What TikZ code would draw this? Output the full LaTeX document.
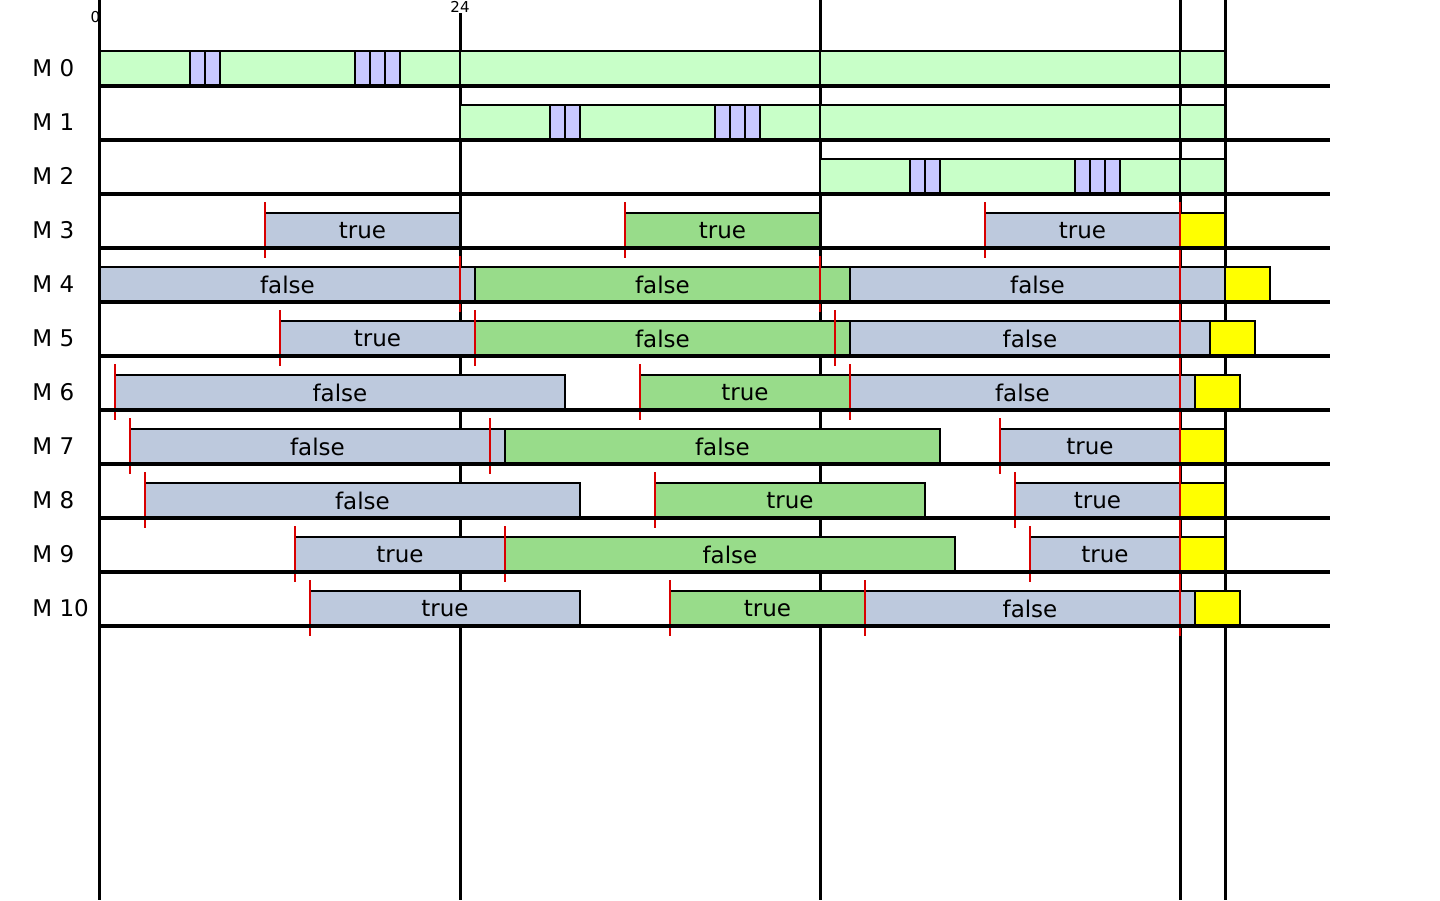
\documentclass[tikz,border=0pt]{standalone}
\usepackage{fontspec}
\setmainfont{DejaVu Sans}
\usepackage{tikz}
\usetikzlibrary{positioning}
\definecolor{runlight}{HTML}{C8FFC8}
\definecolor{slotpur}{HTML}{C8C8FF}
\definecolor{evblue}{HTML}{BDC9DD}
\definecolor{evgreen}{HTML}{98DC8A}
\definecolor{ovyel}{HTML}{FFFF00}
\tikzset{
  seg/.style={draw=black, line width=1.3pt, anchor=south west, inner sep=0pt, outer sep=0pt,
              minimum height=17.5pt, font=\fontsize{11.5}{13}\selectfont},
  wd/.style={minimum width=#1*7.5pt},
  run/.style={seg, fill=runlight},
  slot/.style={seg, fill=slotpur, wd=1},
  blu/.style={seg, fill=evblue},
  grn/.style={seg, fill=evgreen},
  ovr/.style={seg, fill=ovyel},
  axis/.style={line width=1.5pt},
  rowline/.style={line width=2.2pt},
  redtick/.style={draw=red!85!black, line width=0.9pt},
  mlab/.style={anchor=west, font=\fontsize{11.5}{13}\selectfont, inner sep=0pt},
  tlab/.style={font=\fontsize{7.5}{8}\selectfont, inner sep=0pt},
}

\begin{document}
\begin{tikzpicture}[x=7.5pt, y=-27pt]
    \useasboundingbox (-6.6667,-1.5926) rectangle (89.3333,15.0741);
    % time axis
    \draw[axis] (0,-1.5926) -- (0,15.0741);
    \draw[axis] (24,-1.35) -- (24,15.0741);
    \draw[axis] (48,-1.5926) -- (48,15.0741);
    \draw[axis] (72,-1.5926) -- (72,15.0741);
    \draw[axis] (75,-1.5926) -- (75,15.0741);
    \node[tlab] (t0) at (-0.3,-1.28) {0};
    \node[tlab] (t24) at (24,-1.47) {24};
    % M0 .. M2
    \node[run, wd=24] (r0a) at (0,0) {};
    \node[run, wd=24] (r0b) at (24,0) {};
    \node[run, wd=24] (r0c) at (48,0) {};
    \node[run, wd=3] (r0d) at (72,0) {};
    \node[slot] (s0a) at (6,0) {};
    \node[slot] (s0b) at (7,0) {};
    \node[slot] (s0c) at (17,0) {};
    \node[slot] (s0d) at (18,0) {};
    \node[slot] (s0e) at (19,0) {};
    \node[run, wd=24] (r1b) at (24,1) {};
    \node[run, wd=24] (r1c) at (48,1) {};
    \node[run, wd=3] (r1d) at (72,1) {};
    \node[slot] (s1a) at (30,1) {};
    \node[slot] (s1b) at (31,1) {};
    \node[slot] (s1c) at (41,1) {};
    \node[slot] (s1d) at (42,1) {};
    \node[slot] (s1e) at (43,1) {};
    \node[run, wd=24] (r2c) at (48,2) {};
    \node[run, wd=3] (r2d) at (72,2) {};
    \node[slot] (s2a) at (54,2) {};
    \node[slot] (s2b) at (55,2) {};
    \node[slot] (s2c) at (65,2) {};
    \node[slot] (s2d) at (66,2) {};
    \node[slot] (s2e) at (67,2) {};
    % M3 .. M10
    \node[blu, wd=13] (m3a) at (11,3) {true};
    \node[grn, wd=13] (m3b) at (35,3) {true};
    \node[blu, wd=13] (m3c) at (59,3) {true};
    \node[ovr, wd=3] (m3d) at (72,3) {};
    \node[blu, wd=25] (m4a) at (0,4) {false};
    \node[grn, wd=25] (m4b) at (25,4) {false};
    \node[blu, wd=25] (m4c) at (50,4) {false};
    \node[ovr, wd=3] (m4d) at (75,4) {};
    \node[blu, wd=13] (m5a) at (12,5) {true};
    \node[grn, wd=25] (m5b) at (25,5) {false};
    \node[blu, wd=24] (m5c) at (50,5) {false};
    \node[ovr, wd=3] (m5d) at (74,5) {};
    \node[blu, wd=30] (m6a) at (1,6) {false};
    \node[grn, wd=14] (m6b) at (36,6) {true};
    \node[blu, wd=23] (m6c) at (50,6) {false};
    \node[ovr, wd=3] (m6d) at (73,6) {};
    \node[blu, wd=25] (m7a) at (2,7) {false};
    \node[grn, wd=29] (m7b) at (27,7) {false};
    \node[blu, wd=12] (m7c) at (60,7) {true};
    \node[ovr, wd=3] (m7d) at (72,7) {};
    \node[blu, wd=29] (m8a) at (3,8) {false};
    \node[grn, wd=18] (m8b) at (37,8) {true};
    \node[blu, wd=11] (m8c) at (61,8) {true};
    \node[ovr, wd=3] (m8d) at (72,8) {};
    \node[blu, wd=14] (m9a) at (13,9) {true};
    \node[grn, wd=30] (m9b) at (27,9) {false};
    \node[blu, wd=10] (m9c) at (62,9) {true};
    \node[ovr, wd=3] (m9d) at (72,9) {};
    \node[blu, wd=18] (m10a) at (14,10) {true};
    \node[grn, wd=13] (m10b) at (38,10) {true};
    \node[blu, wd=22] (m10c) at (51,10) {false};
    \node[ovr, wd=3] (m10d) at (73,10) {};
    % release marks
    \draw[redtick] (11,2.15) -- (11,3.19);
    \draw[redtick] (35,2.15) -- (35,3.19);
    \draw[redtick] (59,2.15) -- (59,3.19);
    \draw[redtick] (24,3.15) -- (24,4.19);
    \draw[redtick] (48,3.15) -- (48,4.19);
    \draw[redtick] (12,4.15) -- (12,5.19);
    \draw[redtick] (25,4.15) -- (25,5.19);
    \draw[redtick] (49,4.15) -- (49,5.19);
    \draw[redtick] (1,5.15) -- (1,6.19);
    \draw[redtick] (36,5.15) -- (36,6.19);
    \draw[redtick] (50,5.15) -- (50,6.19);
    \draw[redtick] (2,6.15) -- (2,7.19);
    \draw[redtick] (26,6.15) -- (26,7.19);
    \draw[redtick] (60,6.15) -- (60,7.19);
    \draw[redtick] (3,7.15) -- (3,8.19);
    \draw[redtick] (37,7.15) -- (37,8.19);
    \draw[redtick] (61,7.15) -- (61,8.19);
    \draw[redtick] (13,8.15) -- (13,9.19);
    \draw[redtick] (27,8.15) -- (27,9.19);
    \draw[redtick] (62,8.15) -- (62,9.19);
    \draw[redtick] (14,9.15) -- (14,10.19);
    \draw[redtick] (38,9.15) -- (38,10.19);
    \draw[redtick] (51,9.15) -- (51,10.19);
    \draw[redtick] (72,2.15) -- (72,10.19);
    % rows
    \draw[rowline] (0,0) -- (82,0);
    \draw[rowline] (0,1) -- (82,1);
    \draw[rowline] (0,2) -- (82,2);
    \draw[rowline] (0,3) -- (82,3);
    \draw[rowline] (0,4) -- (82,4);
    \draw[rowline] (0,5) -- (82,5);
    \draw[rowline] (0,6) -- (82,6);
    \draw[rowline] (0,7) -- (82,7);
    \draw[rowline] (0,8) -- (82,8);
    \draw[rowline] (0,9) -- (82,9);
    \draw[rowline] (0,10) -- (82,10);
    \node[mlab] (l0) at (-4.53,-0.33) {M 0};
    \node[mlab] (l1) at (-4.53,0.67) {M 1};
    \node[mlab] (l2) at (-4.53,1.67) {M 2};
    \node[mlab] (l3) at (-4.53,2.67) {M 3};
    \node[mlab] (l4) at (-4.53,3.67) {M 4};
    \node[mlab] (l5) at (-4.53,4.67) {M 5};
    \node[mlab] (l6) at (-4.53,5.67) {M 6};
    \node[mlab] (l7) at (-4.53,6.67) {M 7};
    \node[mlab] (l8) at (-4.53,7.67) {M 8};
    \node[mlab] (l9) at (-4.53,8.67) {M 9};
    \node[mlab] (l10) at (-4.53,9.67) {M 10};
  \end{tikzpicture}
\end{document}
